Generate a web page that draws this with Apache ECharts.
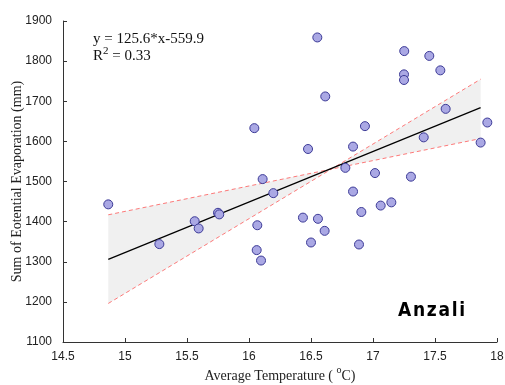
<!DOCTYPE html>
<html>
<head>
<meta charset="utf-8">
<script src="https://cdn.jsdelivr.net/npm/echarts@6/dist/echarts.min.js"></script>
<style>html,body{margin:0;padding:0;background:#fff}#c{width:505px;height:385px}</style>
</head>
<body>
<div id="c"></div>
<script>
// Data
var tempX = [14.865, 15.277, 15.562, 15.594, 15.75, 15.76, 16.043, 16.062, 16.067, 16.097,
  16.11, 16.196, 16.435, 16.476, 16.5, 16.551, 16.556, 16.61, 16.615, 16.777,
  16.839, 16.839, 16.887, 16.906, 16.935, 17.016, 17.062, 17.148, 17.25, 17.25,
  17.252, 17.306, 17.409, 17.454, 17.543, 17.586, 17.868, 17.922];
var evapY = [1443, 1344, 1401, 1383, 1422, 1418, 1633, 1329, 1391, 1303,
  1506, 1471, 1410, 1581, 1348, 1859, 1407, 1377, 1712, 1534,
  1587, 1475, 1343, 1424, 1638, 1521, 1440, 1448, 1767, 1753,
  1825, 1512, 1610, 1813, 1777, 1681, 1597, 1647];
var fitLine = [[14.865, 1306], [17.868, 1684]];
var bandA = [[14.865, 1417], [17.868, 1607]];
var bandB = [[14.865, 1196], [17.868, 1755]];
var xTicks = {min: 14.5, max: 18, step: 0.5};
var yTicks = {min: 1100, max: 1900, step: 100};
var equationText = 'y = 125.6*x-559.9';
var r2Value = '0.33';
var stationName = 'Anzali';
var xTitle = '{n|Average Temperature ( }{sup|o}{n|C)}';
var yTitle = 'Sum of Eotential Evaporation (mm)';

var points = tempX.map(function (x, i) { return [x, evapY[i]]; });

var chart = echarts.init(document.getElementById('c'), null, {renderer: 'canvas'});
var labelStyle = {color: '#222', fontFamily: 'Liberation Sans, Arial, sans-serif', fontSize: 12};
var axisCommon = {
  splitLine: {show: false},
  axisLine: {lineStyle: {color: '#333', width: 1}},
  axisTick: {inside: true, length: 4, lineStyle: {color: '#333'}}
};
chart.setOption({
  animation: false,
  grid: {left: 63, right: 8, top: 21, bottom: 43, containLabel: false, outerBoundsMode: 'none'},
  xAxis: Object.assign({}, axisCommon, {
    type: 'value', min: xTicks.min, max: xTicks.max, interval: xTicks.step,
    axisLabel: Object.assign({}, labelStyle, {margin: 9, formatter: function (v) { return String(v); }}),
    name: xTitle, nameLocation: 'middle', nameGap: 23, nameMoveOverlap: false,
    nameTextStyle: {color: '#222', fontFamily: 'Liberation Serif, Times New Roman, serif', fontSize: 14,
      rich: {
        n: {fontSize: 14, lineHeight: 22, fontFamily: 'Liberation Serif, serif', color: '#222'},
        sup: {fontSize: 10, lineHeight: 10, verticalAlign: 'top', fontFamily: 'Liberation Serif, serif', color: '#222'}}}
  }),
  yAxis: Object.assign({}, axisCommon, {
    type: 'value', min: yTicks.min, max: yTicks.max, interval: yTicks.step,
    axisLabel: Object.assign({}, labelStyle, {margin: 11, formatter: function (v) { return String(v); }}),
    name: yTitle, nameLocation: 'middle', nameGap: 39, nameMoveOverlap: false,
    nameTextStyle: {color: '#222', fontFamily: 'Liberation Serif, Times New Roman, serif', fontSize: 14}
  }),
  graphic: [
    {type: 'text', left: 93, top: 32, z: 100,
      style: {text: equationText, font: '15px "Liberation Serif", serif', fill: '#111'}},
    {type: 'text', left: 93, top: 46, z: 100,
      style: {text: '{n|R}{s|2}{n| = ' + r2Value + '}', fill: '#111',
        rich: {n: {font: '15px "Liberation Serif", serif', lineHeight: 20, fill: '#111'},
               s: {font: '11px "Liberation Serif", serif', lineHeight: 10, verticalAlign: 'top', fill: '#111'}}}},
    {type: 'text', left: 398, top: 302, z: 100,
      style: {text: stationName.split('').join('\u200A'), font: 'bold 19px "DejaVu Sans Condensed", "Liberation Sans Narrow", sans-serif', fill: '#000'}}
  ],
  series: [
    {
      type: 'custom', z: 1, silent: true,
      data: [[0]],
      renderItem: function (params, api) {
        var p = [api.coord(bandA[0]), api.coord(bandA[1]), api.coord(bandB[1]), api.coord(bandB[0])];
        return {type: 'polygon', shape: {points: p}, style: {fill: '#f0f0f0', stroke: null}};
      }
    },
    {type: 'line', data: bandA, z: 2, symbol: 'none', silent: true,
      lineStyle: {color: '#ff3030', width: 0.8, type: [4, 3], opacity: 0.8}},
    {type: 'line', data: bandB, z: 2, symbol: 'none', silent: true,
      lineStyle: {color: '#ff3030', width: 0.8, type: [4, 3], opacity: 0.8}},
    {type: 'line', data: fitLine, z: 3, symbol: 'none', silent: true,
      lineStyle: {color: '#000', width: 1.2}},
    {type: 'scatter', data: points, z: 4, symbolSize: 9,
      itemStyle: {color: '#aaa8e4', borderColor: '#3c3a96', borderWidth: 1, opacity: 1}}
  ]
});
</script>
</body>
</html>
